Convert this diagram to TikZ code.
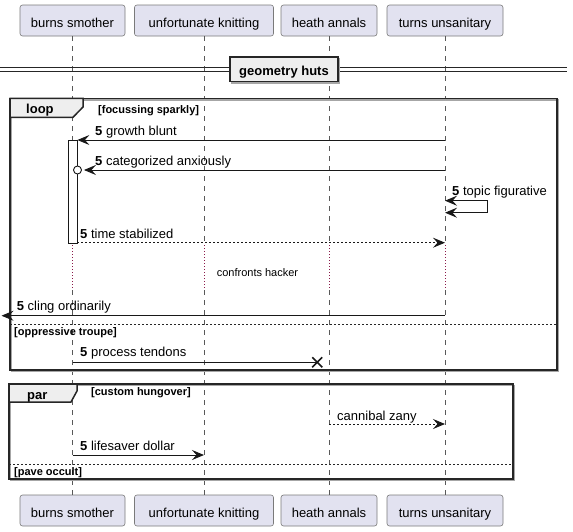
\documentclass[tikz,border=0pt]{standalone}
\usepackage{fontspec}
\setmainfont{Liberation Sans}
\usetikzlibrary{arrows.meta}
\definecolor{partfill}{HTML}{E2E2F0}
\definecolor{partline}{HTML}{7A7A7A}
\definecolor{tabfill}{HTML}{EEEEEE}
\definecolor{msgline}{HTML}{181818}
\definecolor{delayred}{HTML}{8B1A4A}
\newcommand{\msgfont}{\fontsize{13}{15}\selectfont}
\newcommand{\condfont}{\fontsize{11}{13}\selectfont\bfseries}

\begin{document}
\begin{tikzpicture}[x=1pt,y=-1pt,
	>={Stealth[length=12pt,width=10pt,inset=4.5pt]},
	part/.style={draw=partline, fill=partfill, rounded corners=2.5pt, line width=0.6pt, minimum height=31pt, inner sep=0pt, text height=13pt, text depth=0pt, font=\msgfont},
	life/.style={draw=black!65, dash pattern=on 5pt off 5pt, line width=0.5pt},
	delayline/.style={draw=delayred, dash pattern=on 1pt off 2pt, line width=0.8pt},
	msg/.style={draw=msgline, line width=0.9pt, ->},
	reply/.style={msg, dash pattern=on 2pt off 2pt},
	lbl/.style={anchor=base west, inner sep=0pt, font=\msgfont},
	frame/.style={draw=black!85, line width=1.5pt},
	frameshadow/.style={draw=black!35, line width=1.5pt},
	tabbox/.style={frame, fill=tabfill},
	cond/.style={anchor=base west, inner sep=0pt, font=\condfont},
	elsesep/.style={draw=black!85, line width=0.8pt, dash pattern=on 2pt off 2pt}]
			\useasboundingbox (0,0) rectangle (573,531);
			\node[part, minimum width=105pt] (bsT) at (72.5,20.5) {burns smother};
			\node[part, minimum width=139pt] (ukT) at (204,20.5) {unfortunate knitting};
			\node[part, minimum width=96pt] (haT) at (329,20.5) {heath annals};
			\node[part, minimum width=116pt] (tuT) at (445,20.5) {turns unsanitary};
			\node[part, minimum width=105pt] (bsB) at (72.5,510.5) {burns smother};
			\node[part, minimum width=139pt] (ukB) at (204,510.5) {unfortunate knitting};
			\node[part, minimum width=96pt] (haB) at (329,510.5) {heath annals};
			\node[part, minimum width=116pt] (tuB) at (445,510.5) {turns unsanitary};
			\draw[life] (bsT.south) -- (bsT.south |- 0,245);
			\draw[life] (ukT.south) -- (ukT.south |- 0,245);
			\draw[life] (haT.south) -- (haT.south |- 0,245);
			\draw[life] (tuT.south) -- (tuT.south |- 0,245);
			\draw[delayline] (bsT.south |- 0,245) -- (bsT.south |- 0,290);
			\draw[delayline] (ukT.south |- 0,245) -- (ukT.south |- 0,290);
			\draw[delayline] (haT.south |- 0,245) -- (haT.south |- 0,290);
			\draw[delayline] (tuT.south |- 0,245) -- (tuT.south |- 0,290);
			\draw[life] (bsT.south |- 0,290) -- (bsB.north);
			\draw[life] (ukT.south |- 0,290) -- (ukB.north);
			\draw[life] (haT.south |- 0,290) -- (haB.north);
			\draw[life] (tuT.south |- 0,290) -- (tuB.north);
			\draw[black!85, line width=0.8pt] (0,67.7) -- (567,67.7);
			\draw[black!85, line width=0.8pt] (0,71.3) -- (567,71.3);
			\draw[frameshadow] (231.5,58.5) rectangle (339.5,83.2);
			\node[tabbox, minimum width=108pt, minimum height=24.5pt, inner sep=0pt, text height=11.4pt, text depth=0pt, font=\fontsize{13}{15}\selectfont\bfseries] (huts) at (284,69.3) {geometry huts};
			\draw[frameshadow] (11.5,99.8) rectangle (558.5,371.5);
			\draw[frame] (10,98.3) rectangle (557,370);
			\draw[tabbox] (10,98.3) -- (83,98.3) -- (83,107) -- (73,117.3) -- (10,117.3) -- cycle;
			\node[anchor=base west, inner sep=0pt, font=\fontsize{13}{15}\selectfont\bfseries] (loopkw) at (26,113.3) {loop};
			\node[cond] (loopcond) at (98,113) {[focussing sparkly]};
			\node[draw=msgline, fill=white, line width=0.8pt, minimum width=9pt, minimum height=103pt, inner sep=0pt] (act) at (72.5,191.5) {};
			\draw[msg] (tuT |- 0,140) -- (act.east |- 0,140);
			\node[lbl] (growth) at (95,135) {\textbf{5} growth blunt};
			\node[draw=msgline, fill=white, circle, line width=0.9pt, minimum size=8pt, inner sep=0pt] (circ) at (77.5,170) {};
			\draw[msg, shorten >=2pt] (tuT |- 0,170) -- (circ.east);
			\node[lbl] (categ) at (95,165.5) {\textbf{5} categorized anxiously};
			\draw[msg, <->] (tuT |- 0,200.7) -- (487,200.7) -- (487,212.7) -- (tuT |- 0,212.7);
			\node[lbl] (topic) at (452,195) {\textbf{5} topic figurative};
			\draw[reply] (act.east |- 0,242.7) -- (tuT |- 0,242.7);
			\node[lbl] (timestab) at (80,238) {\textbf{5} time stabilized};
			\node[inner sep=0pt, font=\fontsize{11}{13}\selectfont] (delay) at (257.5,273) {confronts hacker};
			\coordinate (edgeL) at (1.5,315.7);
			\draw[msg] (tuT |- 0,315.7) -- (edgeL);
			\node[lbl] (cling) at (16.7,310.7) {\textbf{5} cling ordinarily};
			\draw[elsesep] (10,324.3) -- (557,324.3);
			\node[cond] (oppress) at (14,335.5) {[oppressive troupe]};
			\coordinate (kill) at (317.3,362.3);
			\draw[msgline, line width=0.9pt] (bsT |- 0,362.3) -- (kill);
			\draw[msgline, line width=1.6pt] (kill) +(-5,-5) -- +(5,5) (kill) +(-5,5) -- +(5,-5);
			\node[lbl] (process) at (80,356.5) {\textbf{5} process tendons};
			\draw[frameshadow] (10.5,385.5) rectangle (514.5,480.5);
			\draw[frame] (9,384) rectangle (513,479);
			\draw[tabbox] (9,384) -- (77,384) -- (77,391) -- (71,402) -- (9,402) -- cycle;
			\node[anchor=base west, inner sep=0pt, font=\fontsize{13}{15}\selectfont\bfseries] (parkw) at (27,399) {par};
			\node[cond] (parcond) at (91,395.5) {[custom hungover]};
			\draw[reply] (haT |- 0,424) -- (tuT |- 0,424);
			\node[lbl] (cannibal) at (337,420) {cannibal zany};
			\draw[msg] (bsT |- 0,455) -- (ukT |- 0,455);
			\node[lbl] (lifesaver) at (80,450) {\textbf{5} lifesaver dollar};
			\draw[elsesep] (9,464) -- (513,464);
			\node[cond] (pave) at (14,475) {[pave occult]};
		\end{tikzpicture}
\end{document}
